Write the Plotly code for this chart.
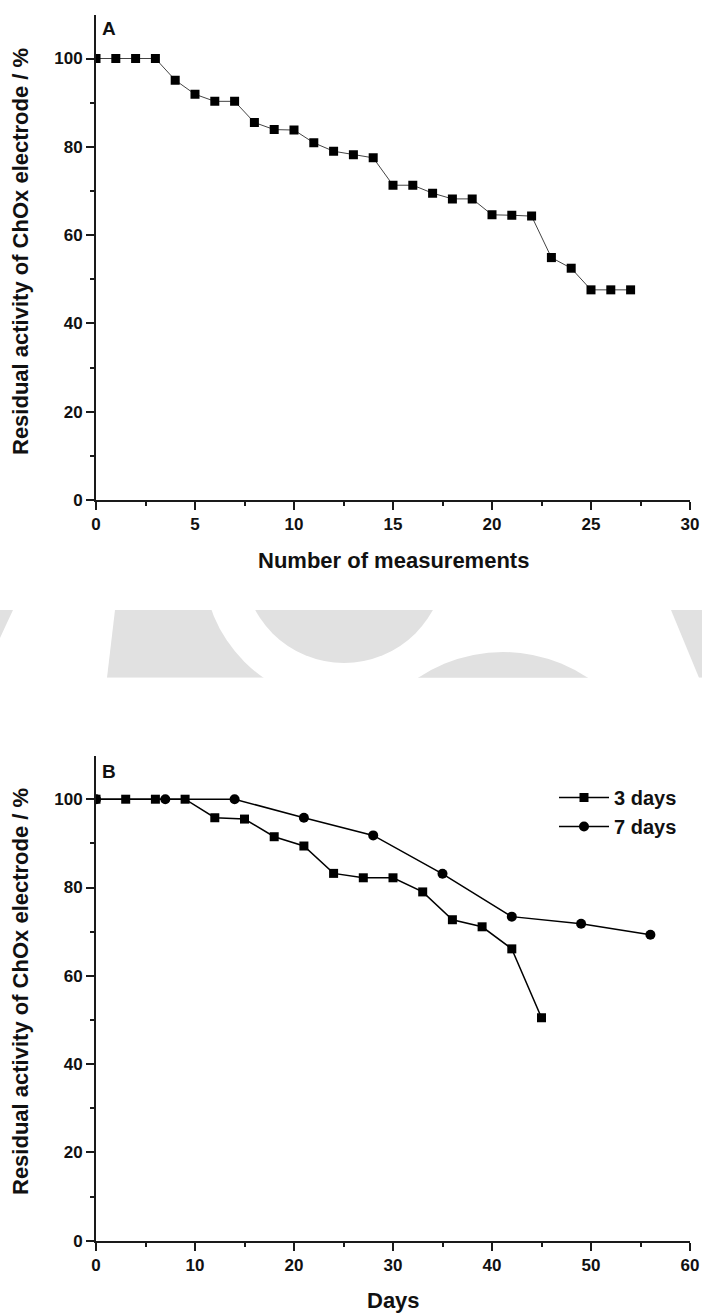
import plotly.graph_objects as go

W, H = 702, 1314

# Panel A: residual activity vs. number of successive measurements
meas_number = list(range(28))
meas_activity = [100, 100, 100, 100, 95.1, 91.9, 90.3, 90.3, 85.5, 83.9,
                 83.8, 80.9, 79.0, 78.2, 77.5, 71.3, 71.3, 69.5, 68.2, 68.2,
                 64.6, 64.5, 64.3, 54.9, 52.5, 47.6, 47.6, 47.6]

# Panel B: storage stability, measured every 3 days and every 7 days
days_3 = [0, 3, 6, 9, 12, 15, 18, 21, 24, 27, 30, 33, 36, 39, 42, 45]
activity_3 = [100, 100, 100, 100, 95.8, 95.5, 91.5, 89.4, 83.2, 82.2,
              82.2, 79.0, 72.7, 71.1, 66.1, 50.5]
days_7 = [0, 7, 14, 21, 28, 35, 42, 49, 56]
activity_7 = [100, 100, 100, 95.8, 91.8, 83.1, 73.4, 71.8, 69.3]

FONT = "Liberation Sans, Arial, Helvetica, sans-serif"
INK = "#111111"


def px(x):
    return x / W


def py(y):
    return 1 - y / H


fig = go.Figure()

fig.add_trace(go.Scatter(
    x=meas_number, y=meas_activity, mode="lines+markers",
    line=dict(color="#444444", width=1),
    marker=dict(symbol="square", size=9, color="black"),
    xaxis="x", yaxis="y", showlegend=False))

fig.add_trace(go.Scatter(
    x=days_3, y=activity_3, mode="lines+markers", name="3 days",
    line=dict(color="black", width=1.5),
    marker=dict(symbol="square", size=9, color="black"),
    xaxis="x2", yaxis="y2"))

fig.add_trace(go.Scatter(
    x=days_7, y=activity_7, mode="lines+markers", name="7 days",
    line=dict(color="black", width=1.5),
    marker=dict(symbol="circle", size=10, color="black"),
    xaxis="x2", yaxis="y2"))

axis_style = dict(
    showline=True, linecolor="#1a1a1a", linewidth=2,
    ticks="outside", ticklen=8, tickwidth=2, tickcolor="#1a1a1a",
    showgrid=False, zeroline=False, automargin=False,
    tickfont=dict(family=FONT, size=17, color=INK, weight="bold"),
)

x_dom = [px(96), px(690)]
fig.update_layout(
    width=W, height=H,
    margin=dict(l=0, r=0, t=0, b=0),
    paper_bgcolor="white", plot_bgcolor="rgba(0,0,0,0)",
    xaxis=dict(domain=x_dom, range=[0, 30], dtick=5, anchor="y",
               minor=dict(dtick=2.5, ticklen=4, tickwidth=2,
                          tickcolor="#1a1a1a", ticks="outside"),
               **axis_style),
    yaxis=dict(domain=[py(500), py(14.8)], range=[0, 109.9], dtick=20,
               anchor="x",
               minor=dict(dtick=10, ticklen=4, tickwidth=2,
                          tickcolor="#1a1a1a", ticks="outside"),
               **axis_style),
    xaxis2=dict(domain=x_dom, range=[0, 60], dtick=10, anchor="y2",
                minor=dict(dtick=5, ticklen=4, tickwidth=2,
                           tickcolor="#1a1a1a", ticks="outside"),
                **axis_style),
    yaxis2=dict(domain=[py(1240.7), py(755.5)], range=[0, 109.9], dtick=20,
                anchor="x2",
                minor=dict(dtick=10, ticklen=4, tickwidth=2,
                           tickcolor="#1a1a1a", ticks="outside"),
                **axis_style),
    legend=dict(x=px(554), y=py(778), xanchor="left", yanchor="top",
                itemwidth=50,
                bgcolor="rgba(0,0,0,0)", borderwidth=0, tracegroupgap=0,
                font=dict(family=FONT, size=20, color=INK, weight="bold")),
    showlegend=True,
)

title_font = dict(family=FONT, size=22, color=INK, weight="bold")
letter_font = dict(family=FONT, size=19, color=INK, weight="bold")
ylabel = "Residual activity of ChOx electrode / %"
annotations = [
    dict(text="Number of measurements", x=px(393), y=py(560),
         xanchor="center", yanchor="middle", font=title_font),
    dict(text=ylabel, x=px(20), y=py(252), textangle=-90,
         xanchor="center", yanchor="middle", font=title_font),
    dict(text="Days", x=px(393), y=py(1300),
         xanchor="center", yanchor="middle", font=title_font),
    dict(text=ylabel, x=px(20), y=py(992), textangle=-90,
         xanchor="center", yanchor="middle", font=title_font),
    dict(text="A", x=px(100), y=py(28.5), xanchor="left", yanchor="middle",
         font=letter_font),
    dict(text="B", x=px(100), y=py(771), xanchor="left", yanchor="middle",
         font=letter_font),
]
for a in annotations:
    a.update(xref="paper", yref="paper", showarrow=False)
fig.update_layout(annotations=annotations)

# Light grey background band between the two panels
GREY = "#e1e1e1"


def circle(cx, cy, r, color):
    return dict(type="circle", xref="paper", yref="paper", layer="below",
                x0=px(cx - r), x1=px(cx + r), y0=py(cy + r), y1=py(cy - r),
                fillcolor=color, line=dict(width=0))


def poly(points, color):
    d = "M " + " L ".join(f"{px(x):.5f},{py(y):.5f}" for x, y in points) + " Z"
    return dict(type="path", xref="paper", yref="paper", layer="below",
                path=d, fillcolor=color, line=dict(width=0))


band_top, band_bot = 610, 677.7
shapes = [
    poly([(115, band_top), (300, band_top), (300, band_bot), (107, band_bot)], GREY),
    circle(344, 562, 141, "white"),
    circle(344, 562, 101, GREY),
    circle(503, 804, 152, GREY),
    poly([(0, band_top), (13, band_top), (6, 625), (0, 638)], GREY),
    poly([(671, band_top), (702, band_top), (702, band_bot), (699, band_bot)], GREY),
    dict(type="rect", xref="paper", yref="paper", layer="below",
         x0=0, x1=1, y0=py(band_top), y1=1, fillcolor="white",
         line=dict(width=0)),
    dict(type="rect", xref="paper", yref="paper", layer="below",
         x0=0, x1=1, y0=0, y1=py(band_bot), fillcolor="white",
         line=dict(width=0)),
]
fig.update_layout(shapes=shapes)

fig.write_html("out.html")
